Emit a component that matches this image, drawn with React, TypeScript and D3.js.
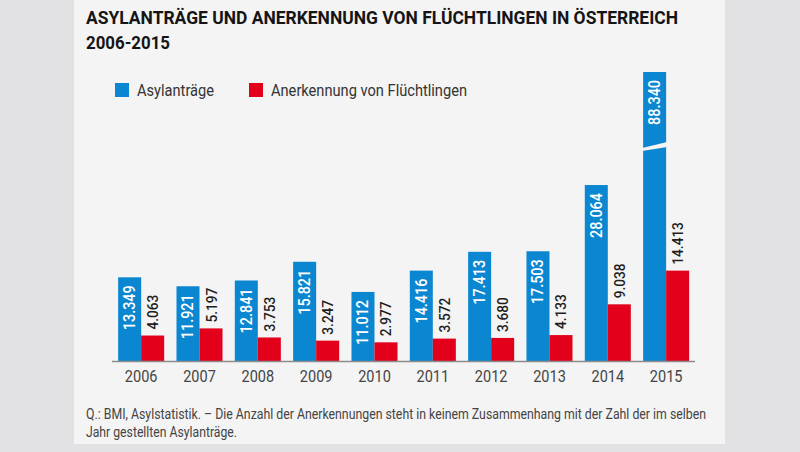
import React from "react";
import * as d3 from "d3";

const years = ["2006", "2007", "2008", "2009", "2010", "2011", "2012", "2013", "2014", "2015"];
const asylantraege = [13349, 11921, 12841, 15821, 11012, 14416, 17413, 17503, 28064, 88340];
const anerkennung = [4063, 5197, 3753, 3247, 2977, 3572, 3680, 4133, 9038, 14413];
const seriesNames = ["Asylanträge", "Anerkennung von Flüchtlingen"];
const titleLines = ["ASYLANTRÄGE UND ANERKENNUNG VON FLÜCHTLINGEN IN ÖSTERREICH", "2006-2015"];
const footLines = [
  "Q.: BMI, Asylstatistik. – Die Anzahl der Anerkennungen steht in keinem Zusammenhang mit der Zahl der im selben",
  "Jahr gestellten Asylanträge.",
];

const W = 800;
const H = 452;
const BLUE = "#0b87d1";
const RED = "#e2001a";
const FONT = "Roboto, 'Noto Sans', sans-serif";
const fmt = (v: number) => d3.format(",")(v).replace(/,/g, ".");

export default function App() {
  const baseline = 361;
  const plotTop = 72;
  const x = d3.scaleBand<string>().domain(years).range([112, 695.3]).paddingInner(0.211).paddingOuter(0.1055);
  const xs = d3.scaleBand<string>().domain(["a", "b"]).range([0, x.bandwidth()]);
  const y = d3.scaleLinear().domain([0, 30000]).range([baseline, baseline - 188.1]);
  const maxRegular = y.invert(plotTop + 20);
  const bw = xs.bandwidth();

  return (
    <svg width={W} height={H} style={{ position: "absolute", left: 0, top: 0 }} fontFamily={FONT}>
      <rect x={0} y={0} width={W} height={H} fill="#e2e2e4" />
      <rect x={74} y={0} width={651} height={444} fill="#f4f4f4" />

      {titleLines.map((t, i) => (
        <text key={t} x={86} y={24 + i * 25} fontSize={18} fontWeight={700} fill="#151515"
          textLength={i === 0 ? 592 : 84} lengthAdjust="spacingAndGlyphs">{t}</text>
      ))}

      {seriesNames.map((n, i) => {
        const lx = i === 0 ? 115 : 249;
        return (
          <g key={n}>
            <rect x={lx} y={83} width={14} height={14} fill={i === 0 ? BLUE : RED} />
            <text x={lx + 22} y={96} fontSize={16} fill="#333" textLength={i === 0 ? 77 : 196}
              lengthAdjust="spacingAndGlyphs">{n}</text>
          </g>
        );
      })}

      {years.map((yr, i) => {
        const gx = x(yr)!;
        const bx = gx + xs("a")!;
        const rx = gx + xs("b")!;
        const bv = asylantraege[i];
        const rv = anerkennung[i];
        const broken = bv > maxRegular;
        const bTop = broken ? plotTop : y(bv);
        const rTop = y(rv);
        return (
          <g key={yr}>
            <rect x={bx} y={bTop} width={bw} height={baseline - bTop} fill={BLUE} />
            {broken && (
              <polygon
                points={`${bx - 1},${plotTop + 76} ${bx + bw + 1},${plotTop + 70} ${bx + bw + 1},${plotTop + 75} ${bx - 1},${plotTop + 79}`}
                fill="#f4f4f4"
              />
            )}
            <rect x={rx} y={rTop} width={bw} height={baseline - rTop} fill={RED} />
            <text transform={`translate(${bx + bw / 2 + 5.5},${bTop + 8}) rotate(-90) scale(0.9,1)`}
              textAnchor="end" fontSize={16} fontWeight={500} fill="#fff">{fmt(bv)}</text>
            <text transform={`translate(${rx + bw / 2 + 5.5},${rTop - 6}) rotate(-90) scale(0.88,1)`}
              textAnchor="start" fontSize={15.5} fontWeight={500} fill="#1e1e1e">{fmt(rv)}</text>
            <text transform={`translate(${gx + x.bandwidth() / 2},382) scale(0.88,1)`} textAnchor="middle"
              fontSize={16.5} fill="#444">{yr}</text>
          </g>
        );
      })}

      <line x1={112} x2={695} y1={baseline + 0.5} y2={baseline + 0.5} stroke="#8c8c8c" strokeWidth={1.5} />

      {footLines.map((t, i) => (
        <text key={i} x={86} y={419 + i * 18} fontSize={14} fill="#444" textLength={i === 0 ? 620 : 151}
          lengthAdjust="spacingAndGlyphs">{t}</text>
      ))}
    </svg>
  );
}
